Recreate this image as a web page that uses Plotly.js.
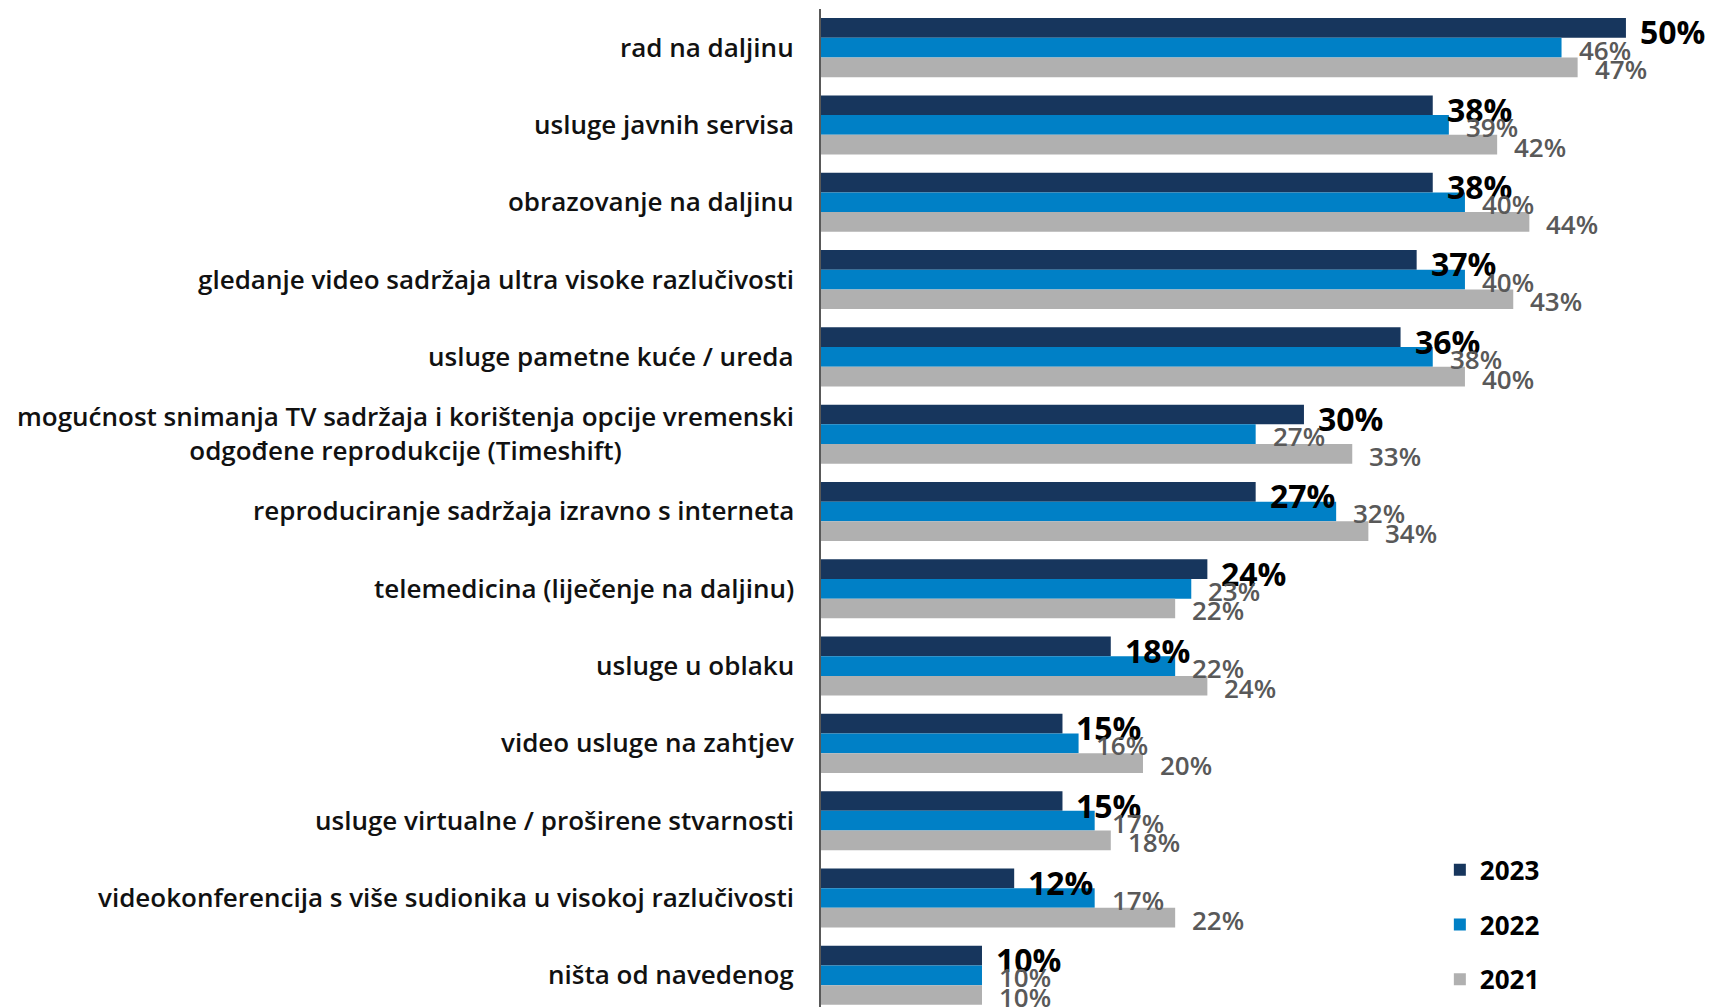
<!DOCTYPE html>
<html>
<head>
<meta charset="utf-8">
<script src="https://cdn.plot.ly/plotly-3.0.1.min.js"></script>
<style>html,body{margin:0;padding:0;background:#fff;}#chart{width:1714px;height:1007px;}</style>
</head>
<body>
<div id="chart"></div>
<script>
const categories = [
  "rad na daljinu",
  "usluge javnih servisa",
  "obrazovanje na daljinu",
  "gledanje video sadržaja ultra visoke razlučivosti",
  "usluge pametne kuće / ureda",
  "mogućnost snimanja TV sadržaja i korištenja opcije vremenski<br>odgođene reprodukcije (Timeshift)",
  "reproduciranje sadržaja izravno s interneta",
  "telemedicina (liječenje na daljinu)",
  "usluge u oblaku",
  "video usluge na zahtjev",
  "usluge virtualne / proširene stvarnosti",
  "videokonferencija s više sudionika u visokoj razlučivosti",
  "ništa od navedenog"
];
const values2023 = [50, 38, 38, 37, 36, 30, 27, 24, 18, 15, 15, 12, 10];
const values2022 = [46, 39, 40, 40, 38, 27, 32, 23, 22, 16, 17, 17, 10];
const values2021 = [47, 42, 44, 43, 40, 33, 34, 22, 24, 20, 18, 22, 10];
const seriesNames = ["2023", "2022", "2021"];
const seriesColors = ["#17365d", "#0080c6", "#b0b0b0"];

const series = [values2023, values2022, values2021];
const idx = categories.map((c, i) => i);
const bargap = 0.236;
const barW = (1 - bargap) / 3;

const traces = series.map((vals, s) => ({
  type: "bar",
  orientation: "h",
  name: seriesNames[s],
  legendgroup: seriesNames[s],
  x: vals,
  y: idx,
  marker: {color: seriesColors[s], line: {width: 0}},
  hoverinfo: "x+name"
}));

const annotations = [];
// category labels
categories.forEach((c, i) => {
  annotations.push({
    xref: "paper", yref: "y", x: 0, y: i, xanchor: "right", yanchor: "middle",
    xshift: -25, yshift: 1, text: c, showarrow: false, align: "center",
    font: {family: "Open Sans", size: 26, color: "#111111", weight: 600}
  });
});
// value labels
series.forEach((vals, s) => {
  vals.forEach((v, i) => {
    annotations.push({
      xref: "x", yref: "y", x: v, y: i + (s - 1) * barW,
      xanchor: "left", yanchor: "middle", xshift: s === 0 ? 12 : 15, yshift: s === 0 ? -4 : -2,
      text: v + "%", showarrow: false,
      font: s === 0 ? {family: "Open Sans", size: 32, color: "#000000", weight: 700}
                    : {family: "Open Sans", size: 26, color: "#595959", weight: 600}
    });
  });
});

const layout = {
  width: 1714, height: 1007,
  margin: {l: 821, r: 0, t: 9, b: 0, pad: 0},
  paper_bgcolor: "#ffffff", plot_bgcolor: "#ffffff",
  barmode: "group", bargap: bargap, bargroupgap: 0,
  showlegend: true,
  legend: {
    x: 0.693, y: 0.161, xanchor: "left", yanchor: "top",
    traceorder: "grouped", tracegroupgap: 18,
    font: {family: "Open Sans", size: 26, color: "#000000", weight: 700},
    bgcolor: "rgba(0,0,0,0)"
  },
  xaxis: {range: [0, 55.47], showgrid: false, zeroline: false, showticklabels: false, showline: false, ticks: ""},
  yaxis: {range: [12.41, -0.5], showgrid: false, zeroline: false, showticklabels: false, ticks: "",
          showline: true, linecolor: "#595959", linewidth: 2, tickmode: "array", tickvals: idx},
  annotations: annotations
};

Plotly.newPlot("chart", traces, layout, {displayModeBar: false, staticPlot: true});
</script>
</body>
</html>
